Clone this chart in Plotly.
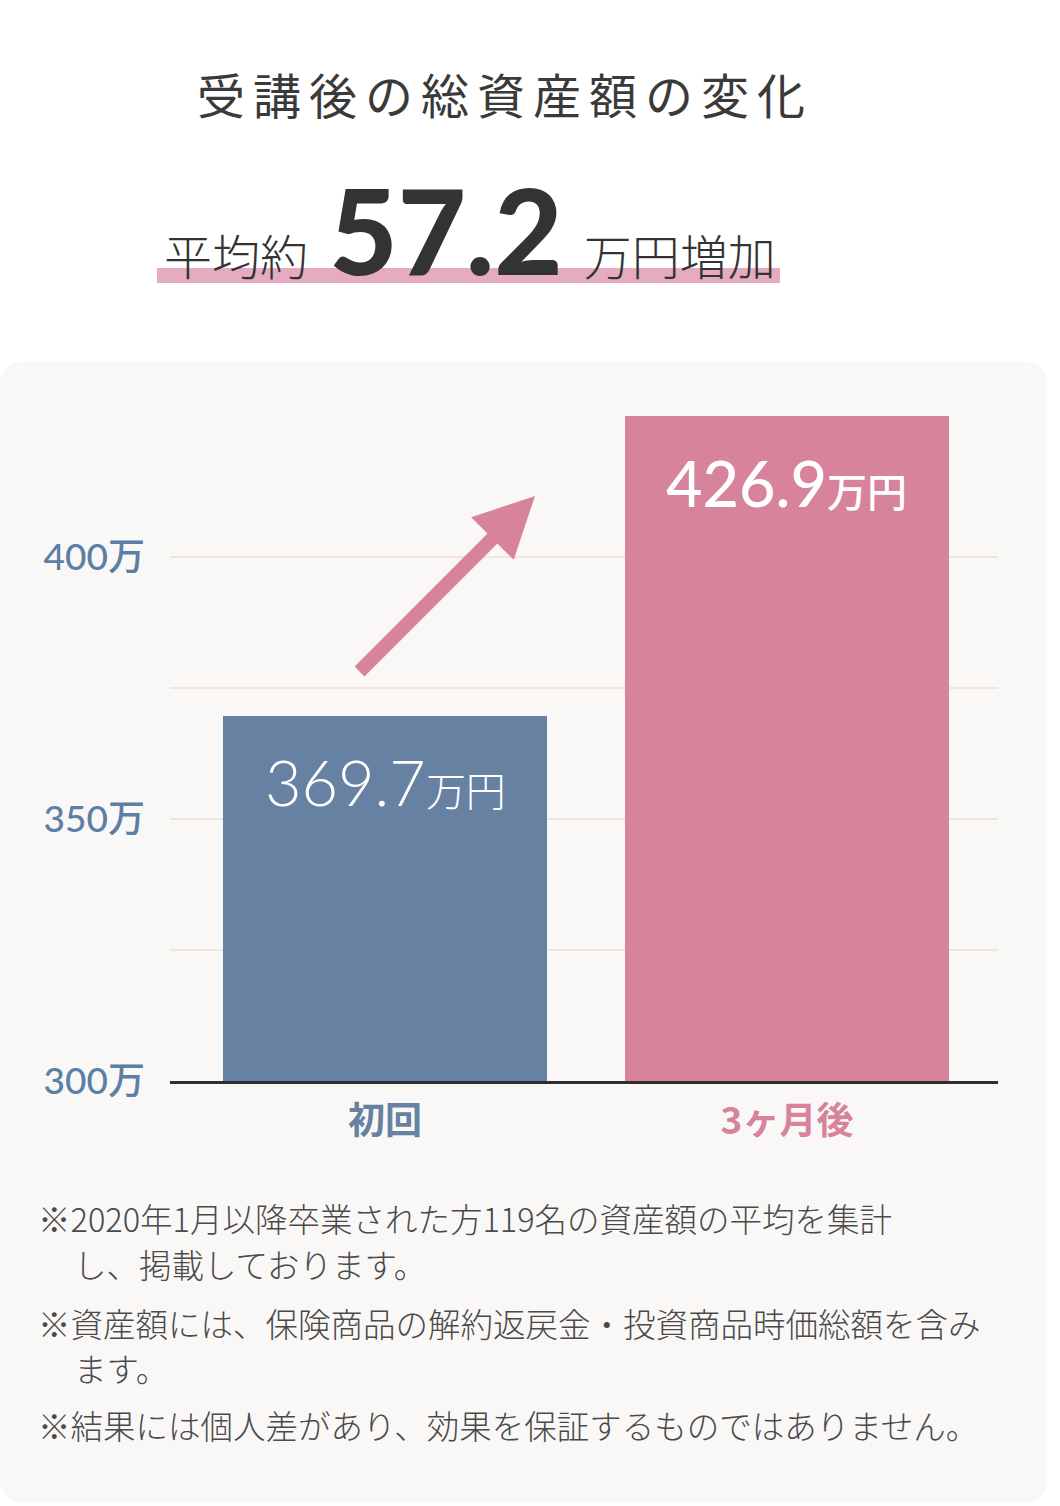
import plotly.graph_objects as go

# ---- data ----
categories = ["初回", "3ヶ月後"]
values = [369.7, 426.9]
increase = 57.2
y_tick_vals = [300, 325, 350, 375, 400]
y_tick_text = ["300万", "", "350万", "", "400万"]
title_text = "受講後の総資産額の変化"
notes = [
    ("※2020年1月以降卒業された方119名の資産額の平均を集計", False),
    ("し、掲載しております。", True),
    ("※資産額には、保険商品の解約返戻金・投資商品時価総額を含み", False),
    ("ます。", True),
    ("※結果には個人差があり、効果を保証するものではありません。", False),
]

W, H = 1060, 1506
L, R, T, B = 170, 62, 400, 425
PW, PH = W - L - R, H - T - B

def px(x):
    return (x - L) / PW

def py(y):
    return (H - B - y) / PH

BLUE = "#6781a2"
PINK = "#d6839b"
TICK_BLUE = "#5b7fa5"
CJK = "Noto Sans CJK JP"
NUM = "Lato, Noto Sans CJK JP"

fig = go.Figure()
fig.add_trace(go.Bar(
    x=categories, y=values, width=0.806,
    marker=dict(color=[BLUE, PINK], line=dict(width=0)),
    hoverinfo="skip",
))

shapes = []
# card background with rounded corners
x0, x1, y0, y1, r = 0, 1047, 362, 1502, 24
path = (f"M {px(x0)},{py(y0 + r)} "
        f"Q {px(x0)},{py(y0)} {px(x0 + r)},{py(y0)} "
        f"L {px(x1 - r)},{py(y0)} "
        f"Q {px(x1)},{py(y0)} {px(x1)},{py(y0 + r)} "
        f"L {px(x1)},{py(y1 - r)} "
        f"Q {px(x1)},{py(y1)} {px(x1 - r)},{py(y1)} "
        f"L {px(x0 + r)},{py(y1)} "
        f"Q {px(x0)},{py(y1)} {px(x0)},{py(y1 - r)} Z")
shapes.append(dict(type="path", xref="paper", yref="paper", path=path,
                   fillcolor="#faf8f6", line=dict(width=0), layer="below"))
# pink underline under subtitle
shapes.append(dict(type="rect", xref="paper", yref="paper",
                   x0=px(157), x1=px(780), y0=py(283), y1=py(268),
                   fillcolor="#e5abc0", line=dict(width=0), layer="below"))

annotations = []
annotations.append(dict(
    xref="paper", yref="paper", x=px(501), y=py(93), xanchor="center", yanchor="middle",
    text="\u2006".join(title_text), showarrow=False,
    font=dict(family=CJK, size=48, color="#3a3a3a", weight=400)))
annotations.append(dict(
    xref="paper", yref="paper", x=px(162), y=py(302), xanchor="left", yanchor="bottom",
    text=(f"<span style='font-size:48px'>平均約\u00a0\u00a0</span>"
          f"<span style='font-family:Lato;font-size:118px;font-weight:900'>{increase:.1f}</span>"
          f"<span style='font-size:48px'>\u00a0\u00a0万円増加</span>"),
    showarrow=False, font=dict(family=CJK, size=48, color="#333333", weight=300)))

for cat, v, wgt in zip(categories, values, [300, 500]):
    annotations.append(dict(
        x=cat, y=v, xref="x", yref="y", xanchor="center", yanchor="middle",
        yshift=-66, showarrow=False,
        text=f"{v:.1f}<span style='font-size:40px'>万円</span>",
        font=dict(family=NUM, size=63, color="white", weight=wgt)))

# decorative arrow
annotations.append(dict(
    xref="paper", yref="paper", x=px(535), y=py(496), ax=-177, ay=177,
    axref="pixel", ayref="pixel", text="", showarrow=True,
    arrowhead=2, arrowsize=0.86, arrowwidth=14, arrowcolor=PINK))

note_y = [1217, 1263, 1322, 1367, 1424]
for (txt, indent), yy in zip(notes, note_y):
    annotations.append(dict(
        xref="paper", yref="paper", x=px(72 if indent else 36), y=py(yy),
        xanchor="left", yanchor="middle", text=txt, showarrow=False,
        font=dict(family=CJK, size=32.5, color="#4a4a4a", weight=300)))

fig.update_layout(
    width=W, height=H, margin=dict(l=L, r=R, t=T, b=B),
    paper_bgcolor="white", plot_bgcolor="rgba(0,0,0,0)",
    showlegend=False, shapes=shapes, annotations=annotations,
    bargap=0,
    xaxis=dict(
        type="category", range=[-0.535, 1.525], fixedrange=True,
        showgrid=False, zeroline=False, showline=True, linecolor="#2f2f2f", linewidth=3,
        ticks="", ticklabelstandoff=6,
        tickvals=categories,
        ticktext=[f"<span style='color:{BLUE}'><b>{categories[0]}</b></span>",
                  f"<span style='color:{PINK}'><b>{categories[1]}</b></span>"],
        tickfont=dict(family=CJK, size=37),
    ),
    yaxis=dict(
        range=[300, 430], fixedrange=True,
        tickvals=y_tick_vals, ticktext=y_tick_text,
        showgrid=True, gridcolor="#efe6dc", gridwidth=2,
        zeroline=False, showline=False, ticks="", ticklabelstandoff=24,
        tickfont=dict(family=NUM, size=37, color=TICK_BLUE, weight=500),
    ),
)

fig.write_html("out.html")
